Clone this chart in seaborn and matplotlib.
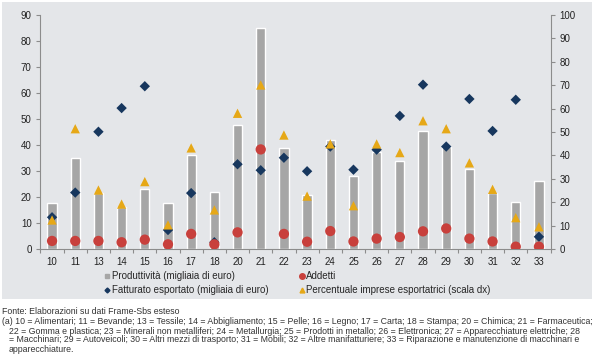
import matplotlib
matplotlib.use('Agg')
import matplotlib.pyplot as plt
import pandas as pd
import seaborn as sns
from matplotlib.lines import Line2D
from matplotlib.patches import Rectangle

# Data
categories = ['10', '11', '13', '14', '15', '16', '17', '18', '20', '21', '22',
              '23', '24', '25', '26', '27', '28', '29', '30', '31', '32', '33']
produttivita = [17.8, 34.9, 21.7, 16.3, 22.9, 17.7, 36.2, 22.1, 47.6, 84.9, 38.8,
                20.9, 41.9, 27.9, 37.2, 33.7, 45.4, 39.4, 30.6, 21.7, 17.9, 26.2]
addetti = [3.1, 3.1, 3.1, 2.6, 3.6, 1.8, 5.8, 1.8, 6.4, 38.3, 5.8,
           2.8, 6.9, 2.9, 4.0, 4.6, 6.8, 7.9, 4.0, 2.9, 0.9, 0.9]
fatturato = [12.2, 21.7, 45.1, 54.2, 62.6, 7.3, 21.5, 2.6, 32.6, 30.3, 35.1,
             29.9, 39.4, 30.5, 38.2, 51.2, 63.2, 39.4, 57.7, 45.4, 57.4, 4.7]
perc_export = [12.4, 51.4, 25.2, 19.2, 28.8, 10.3, 43.2, 16.7, 58.0, 70.1, 48.7,
               22.6, 44.9, 18.5, 44.9, 41.2, 54.8, 51.4, 36.8, 25.5, 13.4, 9.5]

df = pd.DataFrame({'settore': categories, 'produttivita': produttivita,
                   'addetti': addetti, 'fatturato': fatturato,
                   'perc': perc_export})

sns.set_theme(style='white')
plt.rcParams['font.family'] = ['Liberation Sans', 'DejaVu Sans']

c_bar = '#a6a6a6'
c_add = '#c8403c'
c_fat = '#17375e'
c_perc = '#e6a817'
c_bg = '#e4e6e9'
c_axis = '#8c8c8c'

fig = plt.figure(figsize=(6, 3.6), dpi=100)
# gray panel behind the chart and legend
fig.patches.append(Rectangle((2 / 600, 1 - 299 / 360), 590 / 600, 297 / 360,
                             transform=fig.transFigure, facecolor=c_bg,
                             edgecolor='none', zorder=-10))

ax = fig.add_axes([40 / 600, 1 - 249 / 360, 511 / 600, 234 / 360])
ax.patch.set_alpha(0)

sns.barplot(data=df, x='settore', y='produttivita', order=categories,
            color=c_bar, width=0.4, saturation=1, ax=ax, zorder=1)
sns.scatterplot(data=df, x='settore', y='fatturato', marker='D', s=28,
                color=c_fat, edgecolor='none', ax=ax, zorder=3)
sns.scatterplot(data=df, x='settore', y='addetti', marker='o', s=55,
                color=c_add, edgecolor='none', ax=ax, zorder=4)

# percentage of exporting firms on the right-hand scale
ax2 = ax.twinx()
ax2.patch.set_alpha(0)
sns.scatterplot(data=df, x='settore', y='perc', marker='^', s=45,
                color=c_perc, edgecolor='none', ax=ax2, zorder=5)

ax.set_xlim(-0.52, 21.52)
ax.set_ylim(0, 90)
ax2.set_ylim(0, 100)
ax.set_yticks(range(0, 91, 10))
ax2.set_yticks(range(0, 101, 10))
for a in (ax, ax2):
    a.set_xlabel('')
    a.set_ylabel('')
    for s in a.spines.values():
        s.set_visible(False)

ax.spines['left'].set_visible(True)
ax.spines['bottom'].set_visible(True)
ax2.spines['right'].set_visible(True)
for s in (ax.spines['left'], ax.spines['bottom'], ax2.spines['right']):
    s.set_color(c_axis)
    s.set_linewidth(0.8)

# category labels at bar centres, tick marks between the categories
ax.set_xticks(range(len(categories)))
ax.set_xticklabels(categories)
ax.set_xticks([i - 0.5 for i in range(len(categories) + 1)], minor=True)
ax.tick_params(axis='x', which='major', length=0, pad=6, labelsize=7, labelcolor='#222222')
ax.tick_params(axis='x', which='minor', length=3, color=c_axis, width=0.8, direction='out',
               bottom=True)
ax.tick_params(axis='y', length=3, color=c_axis, width=0.8, labelsize=7,
               labelcolor='#222222', left=True, pad=3)
ax2.tick_params(axis='y', length=3, color=c_axis, width=0.8, labelsize=7,
                labelcolor='#222222', right=True, pad=3)

handles = [
    Line2D([], [], marker='s', color=c_bar, linestyle='none', markersize=3.5),
    Line2D([], [], marker='D', color=c_fat, linestyle='none', markersize=2.5),
    Line2D([], [], marker='o', color=c_add, linestyle='none', markersize=4),
    Line2D([], [], marker='^', color=c_perc, linestyle='none', markersize=3.5),
]
labels = ['Produttività (migliaia di euro)', 'Fatturato esportato (migliaia di euro)',
          'Addetti', 'Percentuale imprese esportatrici (scala dx)']
fig.legend(handles, labels, ncol=2, loc='upper left',
           bbox_to_anchor=(105 / 600, 1 - 271 / 360), frameon=False,
           fontsize=7, handlelength=0.5, handletextpad=0.2,
           columnspacing=3.2, labelspacing=0.45, borderpad=0, borderaxespad=0)

notes = [
    'Fonte: Elaborazioni su dati Frame-Sbs esteso',
    '(a) 10 = Alimentari; 11 = Bevande; 13 = Tessile; 14 = Abbigliamento; 15 = Pelle; 16 = Legno; 17 = Carta; 18 = Stampa; 20 = Chimica; 21 = Farmaceutica;',
    '22 = Gomma e plastica; 23 = Minerali non metalliferi; 24 = Metallurgia; 25 = Prodotti in metallo; 26 = Elettronica; 27 = Apparecchiature elettriche; 28',
    '= Macchinari; 29 = Autoveicoli; 30 = Altri mezzi di trasporto; 31 = Mobili; 32 = Altre manifatturiere; 33 = Riparazione e manutenzione di macchinari e',
    'apparecchiature.',
]
note_x = [2, 2, 9, 9, 9]
note_y = [311, 322, 331, 340, 349]
for txt, x, y in zip(notes, note_x, note_y):
    fig.text(x / 600, 1 - y / 360, txt, fontsize=6.3, color='#333333',
             va='center', ha='left')

fig.savefig('out.png', dpi=100)
